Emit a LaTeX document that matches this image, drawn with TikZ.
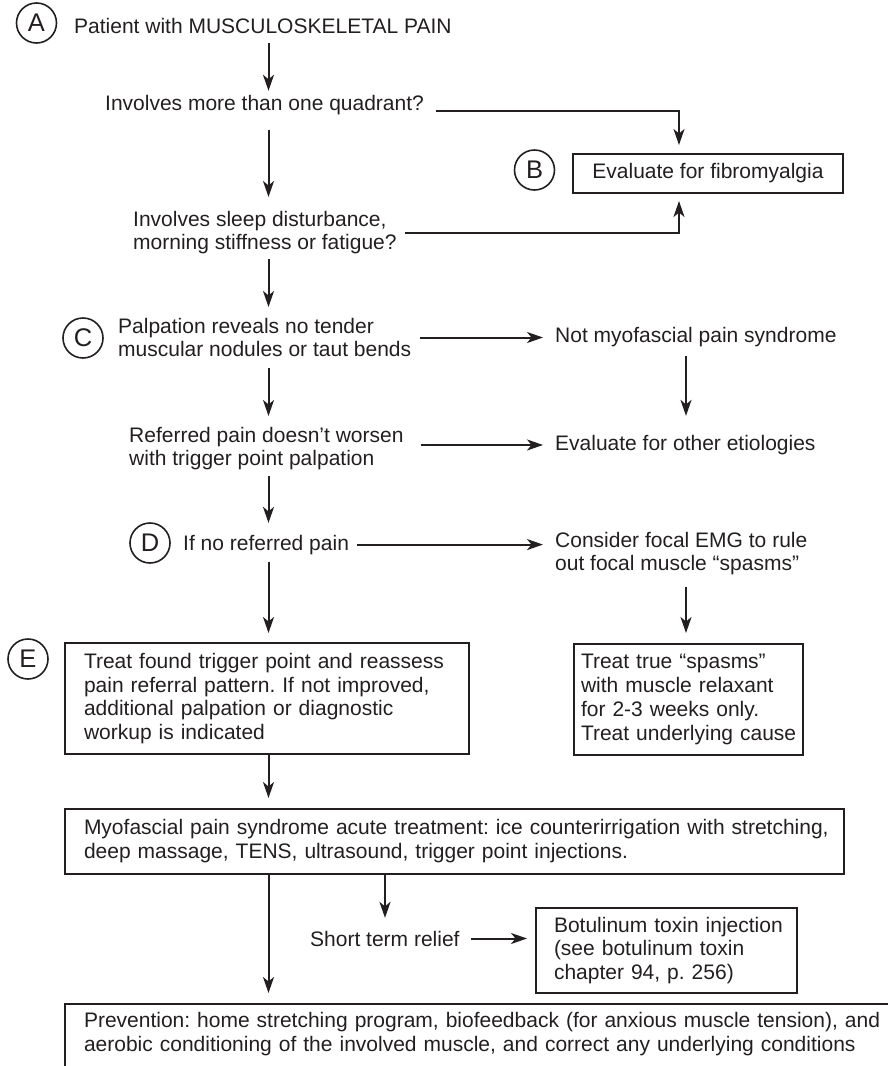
\documentclass[tikz,border=0pt]{standalone}
\usepackage{fontspec}
\setmainfont{Liberation Sans}
\usetikzlibrary{arrows.meta,calc}
\definecolor{ink}{RGB}{35,31,32}
\begin{document}
\begin{tikzpicture}[x=1pt,y=-1pt,
  every node/.style={font=\fontsize{21}{23.8}\selectfont\frenchspacing, text=ink},
  lbl/.style={circle, draw=ink, line width=1.6pt, minimum size=40pt, inner sep=0pt, font=\fontsize{25.5}{28}\selectfont},
  txt/.style={inner sep=0pt, align=left},
  boxnode/.style={draw=ink, line width=2pt, inner xsep=0pt, inner ysep=0pt, align=left, anchor=north west},
  arr/.style={draw=ink, line width=2pt, -{Stealth[length=16pt,width=11pt,inset=4.5pt]}},
]
\useasboundingbox (0,0) rectangle (888,1066);
\clip (0,0) rectangle (888,1066);

% column coordinates
\coordinate (colA) at (268.5,0);
\coordinate (colB) at (686,0);
\coordinate (colF) at (679,0);
\coordinate (colS) at (385,0);

% nodes
\node[lbl] (cA) at (36.5,23) {A};
\node[txt, anchor=base west] (patient) at (74,33) {Patient with MUSCULOSKELETAL PAIN};
\node[txt, anchor=base west] (quad) at (105,110) {Involves more than one quadrant?};
\node[lbl] (cB) at (534.5,170) {B};
\node[boxnode, minimum width=270pt, minimum height=39pt, align=center] (fibro) at (572,153) {Evaluate for fibromyalgia};
\node[txt, anchor=north west] (sleep) at (133,210.7) {Involves sleep disturbance,\\morning stiffness or fatigue?};
\node[lbl] (cC) at (83,338) {C};
\node[txt, anchor=north west] (palp) at (118,317.7) {Palpation reveals no tender\\muscular nodules or taut bends};
\node[txt, anchor=base west] (notmyo) at (555,342) {Not myofascial pain syndrome};
\node[txt, anchor=north west] (referred) at (129,426.7) {Referred pain doesn’t worsen\\with trigger point palpation};
\node[txt, anchor=base west] (evalother) at (555,450) {Evaluate for other etiologies};
\node[lbl] (cD) at (150,543) {D};
\node[txt, anchor=base west] (noref) at (183,550) {If no referred pain};
\node[txt, anchor=north west] (consider) at (555,531.7) {Consider focal EMG to rule\\out focal muscle “spasms”};
\node[lbl] (cE) at (28,659) {E};
\node[boxnode, text width=404pt, minimum height=111pt] (treat) at (64,642) {\leftskip=19pt\relax Treat found trigger point and reassess\\pain referral pattern. If not improved,\\additional palpation or diagnostic\\workup is indicated\par};
\node[boxnode, text width=229pt, minimum height=111pt] (spasm) at (573,643) {\leftskip=7pt\relax Treat true “spasms”\\with muscle relaxant\\for 2-3 weeks only.\\Treat underlying cause\par};
\node[boxnode, text width=779pt, minimum height=65pt] (myo) at (64,807.5) {\leftskip=19pt\relax Myofascial pain syndrome acute treatment: ice counterirrigation with stretching,\\deep massage, TENS, ultrasound, trigger point injections.\par};
\node[txt, anchor=base west] (short) at (310,946) {Short term relief};
\node[boxnode, text width=261pt, minimum height=85pt] (botox) at (535,907) {\leftskip=18pt\relax Botulinum toxin injection\\(see botulinum toxin\\chapter 94, p. 256)\par};
\node[boxnode, text width=850pt, inner ysep=8.7pt] (prev) at (64,1003) {\leftskip=19pt\relax Prevention: home stretching program, biofeedback (for anxious muscle tension), and\\aerobic conditioning of the involved muscle, and correct any underlying conditions\rule[-80pt]{0pt}{80pt}\par};

% main column
\draw[arr, shorten <=10pt, shorten >=3.8pt] (patient.south -| colA) -- (quad.north -| colA);
\draw[arr, shorten <=15.5pt, shorten >=13.7pt] (quad.south -| colA) -- (sleep.north -| colA);
\draw[arr, shorten <=4.6pt, shorten >=10.7pt] (sleep.south -| colA) -- (palp.north -| colA);
\draw[arr, shorten <=11pt, shorten >=10.7pt] (palp.south -| colA) -- (referred.north -| colA);
\draw[arr, shorten <=5.6pt, shorten >=11.7pt] (referred.south -| colA) -- (noref.north -| colA);
\draw[arr, shorten <=7.6pt, shorten >=9pt] (noref.south -| colA) -- (treat.north -| colA);
\draw[arr, shorten >=9.5pt] (treat.south -| colA) -- (myo.north -| colA);
\draw[arr, shorten >=10pt] (myo.south -| colA) -- (prev.north -| colA);
\draw[arr, shorten >=12.7pt] (myo.south -| colS) -- (short.north -| colS);
\draw[arr, shorten <=11.2pt, shorten >=8pt] (short.east) -- (short.east -| botox.west);

% to fibromyalgia
\draw[arr, shorten >=8pt] ([xshift=12pt, yshift=-1pt]quad.base east) -| (colF |- fibro.north);
\draw[arr, shorten <=8pt, shorten >=7pt] (sleep.east) -| (colF |- fibro.south);

% right branches
\draw[arr, shorten <=9pt, shorten >=12pt] (palp.east) -- (palp.east -| notmyo.west);
\draw[arr, shorten <=9.5pt, shorten >=18.7pt] (notmyo.south -| colB) -- (evalother.north -| colB);
\draw[arr, shorten <=17pt, shorten >=12pt] ([yshift=3.6pt]referred.east) -- ([yshift=3.6pt]referred.east -| evalother.west);
\draw[arr, shorten <=7.7pt, shorten >=12pt] (noref.east) -- (noref.east -| consider.west);
\draw[arr, shorten <=11.5pt, shorten >=10pt] (consider.south -| colB) -- (spasm.north -| colB);
\end{tikzpicture}
\end{document}
